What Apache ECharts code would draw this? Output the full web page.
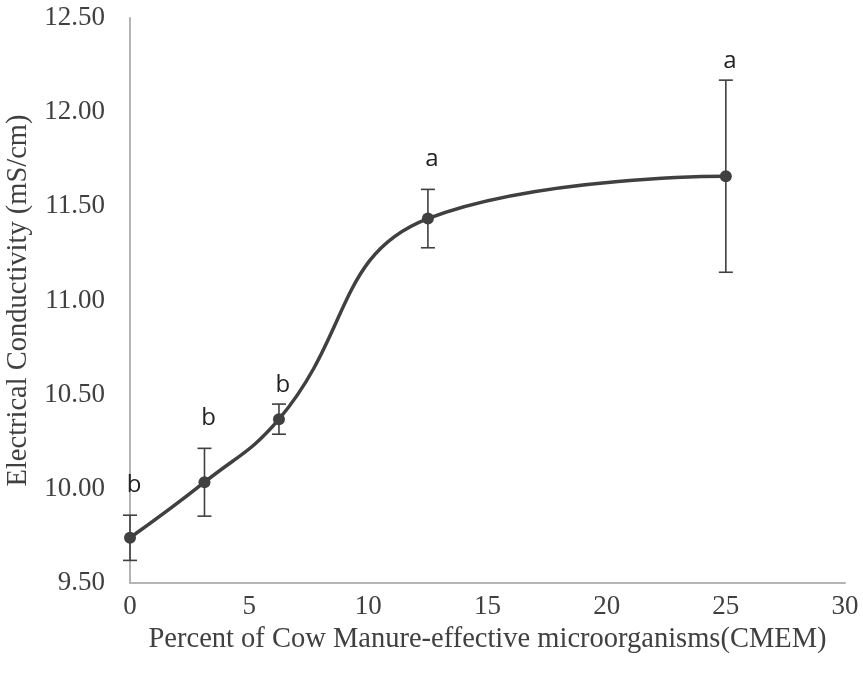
<!DOCTYPE html>
<html><head><meta charset="utf-8">
<script src="https://cdn.jsdelivr.net/npm/echarts@6/dist/echarts.min.js"></script>
<style>html,body{margin:0;padding:0;background:#fff}#c{width:863px;height:674px}</style>
</head><body><div id="c"></div>
<script>
var xValues = [0, 3.125, 6.25, 12.5, 25];
var ecMeans = [9.74, 10.035, 10.37, 11.435, 11.66];
var ecErrors = [0.12, 0.18, 0.08, 0.155, 0.51];
var groupLetters = ['b', 'b', 'b', 'a', 'a'];
var xTicks = [0, 5, 10, 15, 20, 25, 30];
var yTicks = [9.5, 10, 10.5, 11, 11.5, 12, 12.5];

var lineData = xValues.map(function (x, i) { return [x, ecMeans[i]]; });
var errData = xValues.map(function (x, i) { return [x, ecMeans[i] - ecErrors[i], ecMeans[i] + ecErrors[i], groupLetters[i]]; });
var col = '#404040';
var chart = echarts.init(document.getElementById('c'));
chart.setOption({
  animation: false,
  grid: { left: 130, right: 18, top: 18, bottom: 91, containLabel: false, outerBoundsMode: 'none' },
  xAxis: {
    type: 'value', min: 0, max: 30, interval: 5,
    name: 'Percent of Cow Manure-effective microorganisms(CMEM)',
    nameLocation: 'middle', nameGap: 39,
    nameTextStyle: { fontFamily: 'Liberation Serif', fontSize: 28.5, color: '#404040' },
    axisLine: { lineStyle: { color: '#b4b4b8', width: 2 } },
    axisTick: { show: false },
    splitLine: { show: false },
    axisLabel: { fontFamily: 'Liberation Serif', fontSize: 27, color: '#404040', margin: 10 }
  },
  yAxis: {
    type: 'value', min: 9.5, max: 12.5, interval: 0.5,
    name: 'Electrical Conductivity (mS/cm)',
    nameLocation: 'middle', nameGap: 97, nameRotate: 90,
    nameTextStyle: { fontFamily: 'Liberation Serif', fontSize: 28.5, color: '#404040' },
    axisLine: { show: true, lineStyle: { color: '#b4b4b8', width: 2 } },
    axisTick: { show: false },
    splitLine: { show: false },
    axisLabel: { fontFamily: 'Liberation Serif', fontSize: 27, color: '#404040', margin: 25,
      formatter: function (v) { return v.toFixed(2); } }
  },
  series: [
    {
      type: 'custom',
      data: errData,
      renderItem: function (params, api) {
        var x = api.value(0);
        var lo = api.coord([x, api.value(1)]);
        var hi = api.coord([x, api.value(2)]);
        var hw = 7;
        var st = { stroke: col, lineWidth: 1.6 };
        return {
          type: 'group',
          children: [
            { type: 'line', shape: { x1: lo[0], y1: lo[1], x2: hi[0], y2: hi[1] }, style: st },
            { type: 'line', shape: { x1: lo[0] - hw, y1: lo[1], x2: lo[0] + hw, y2: lo[1] }, style: st },
            { type: 'line', shape: { x1: hi[0] - hw, y1: hi[1], x2: hi[0] + hw, y2: hi[1] }, style: st },
            { type: 'text', style: { text: api.value(3), x: hi[0] + 4, y: hi[1] - (params.dataIndex === 2 || params.dataIndex === 4 ? 7 : 18),
              fill: '#222', font: '24px "Open Sans"', textAlign: 'center', textVerticalAlign: 'bottom' } }
          ]
        };
      },
      z: 3
    },
    {
      type: 'line',
      data: lineData,
      smooth: 0.45,
      symbol: 'circle',
      symbolSize: 12,
      lineStyle: { color: col, width: 3.5 },
      itemStyle: { color: col },
      z: 4
    }
  ]
});
</script></body></html>
